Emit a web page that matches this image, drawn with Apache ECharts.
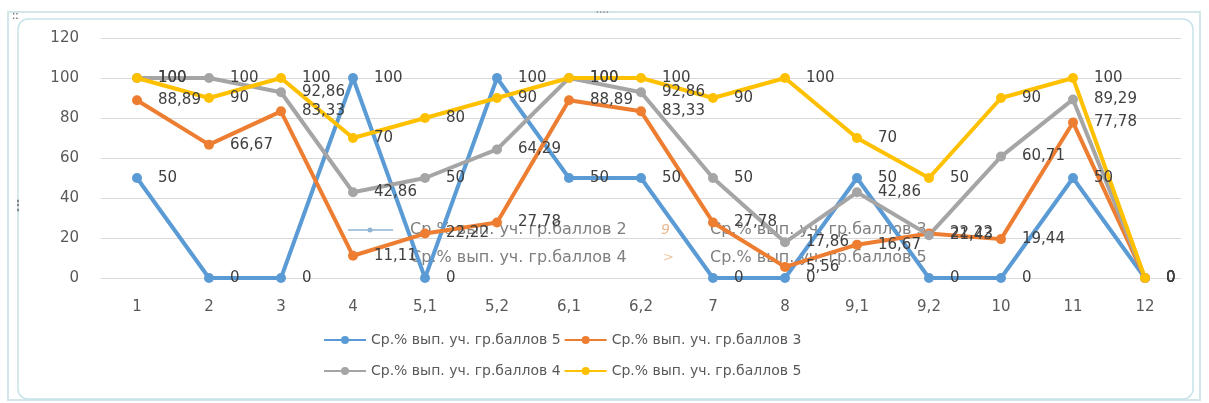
<!DOCTYPE html>
<html><head><meta charset="utf-8">
<script src="https://cdn.jsdelivr.net/npm/echarts@6/dist/echarts.min.js"></script>
<style>html,body{margin:0;padding:0;background:#fff}#c{width:1209px;height:403px}</style>
</head><body><div id="c"></div>
<script>
const categories = ['1','2','3','4','5,1','5,2','6,1','6,2','7','8','9,1','9,2','10','11','12'];
const yTicks = [0, 20, 40, 60, 80, 100, 120];
const nameBlue = 'Ср.% вып. уч. гр.баллов 5';
const nameOrange = 'Ср.% вып. уч. гр.баллов 3';
const nameGray = 'Ср.% вып. уч. гр.баллов 4';
const nameYellow = 'Ср.% вып. уч. гр.баллов 5\u200B';
const blueValues   = [50, 0, 0, 100, 0, 100, 50, 50, 0, 0, 50, 0, 0, 50, 0];
const orangeValues = [88.89, 66.67, 83.33, 11.11, 22.22, 27.78, 88.89, 83.33, 27.78, 5.56, 16.67, 22.22, 19.44, 77.78, 0];
const grayValues   = [100, 100, 92.86, 42.86, 50, 64.29, 100, 92.86, 50, 17.86, 42.86, 21.43, 60.71, 89.29, 0];
const yellowValues = [100, 90, 100, 70, 80, 90, 100, 100, 90, 100, 70, 50, 90, 100, 0];
const ghostTexts = ['Ср.% вып. уч. гр.баллов 2', 'Ср.% вып. уч. гр.баллов 3', 'Ср.% вып. уч. гр.баллов 4', 'Ср.% вып. уч. гр.баллов 5'];

const FONT = 'DejaVu Sans';
const chart = echarts.init(document.getElementById('c'), null, {renderer: 'canvas'});

function mk(name, data, color) {
  return {
    name, type: 'line', data,
    symbol: 'circle', symbolSize: 10,
    lineStyle: {width: 4, color},
    itemStyle: {color},
    label: {
      show: true, position: 'right', distance: 16,
      color: '#404040', fontFamily: FONT, fontSize: 15,
      formatter: p => String(p.value).replace('.', ',')
    },
    emphasis: {disabled: true},
    animation: false
  };
}

const legendCommon = {
  itemWidth: 42, itemHeight: 10, itemGap: 3, padding: 0,
  textStyle: {color: '#595959', fontFamily: FONT, fontSize: 14}
};

chart.setOption({
  backgroundColor: '#fff',
  animation: false,
  color: ['#5B9BD5', '#ED7D31', '#A5A5A5', '#FFC000'],
  grid: {left: 101, right: 28, top: 38, bottom: 125},
  legend: [
    Object.assign({}, legendCommon, {data: [nameBlue, nameOrange], left: 323, top: 333}),
    Object.assign({}, legendCommon, {data: [nameGray, nameYellow], left: 323, top: 364})
  ],
  xAxis: {
    type: 'category', data: categories, boundaryGap: true,
    axisLine: {lineStyle: {color: '#d9d9d9'}},
    axisTick: {show: false},
    axisLabel: {color: '#595959', fontFamily: FONT, fontSize: 15, margin: 22}
  },
  yAxis: {
    type: 'value', min: yTicks[0], max: yTicks[yTicks.length - 1], interval: 20,
    axisLine: {show: false}, axisTick: {show: false},
    splitLine: {lineStyle: {color: '#d9d9d9'}},
    axisLabel: {color: '#595959', fontFamily: FONT, fontSize: 15, margin: 22}
  },
  series: [
    mk(nameBlue, blueValues, '#5B9BD5'),
    mk(nameOrange, orangeValues, '#ED7D31'),
    mk(nameGray, grayValues, '#A5A5A5'),
    mk(nameYellow, yellowValues, '#FFC000')
  ],
  graphic: [
    {type: 'rect', shape: {x: 8, y: 12, width: 1192, height: 388}, style: {fill: 'none', stroke: '#d3e6ea', lineWidth: 2}, silent: true},
    {type: 'rect', shape: {x: 18, y: 19, width: 1175, height: 380, r: 10}, style: {fill: 'none', stroke: '#c6e3e9', lineWidth: 1.5}, silent: true},
    {type: 'text', left: 12, top: 11, style: {text: '::', fill: '#777', font: 'bold 10px sans-serif'}, silent: true},
    {type: 'text', left: 596, top: 8, style: {text: '····', fill: '#999', font: 'bold 10px sans-serif'}, silent: true},
    {type: 'text', left: 12, top: 200, style: {text: '⋮', fill: '#777', font: 'bold 12px sans-serif'}, silent: true},
    {type: 'line', shape: {x1: 348, y1: 230, x2: 393, y2: 230}, style: {stroke: '#8fb4d6', lineWidth: 1.5}, silent: true},
    {type: 'circle', shape: {cx: 370, cy: 230, r: 2.5}, style: {fill: '#8fb4d6'}, silent: true},
    {type: 'text', x: 410, y: 230, style: {text: ghostTexts[0], fill: '#7f7f7f', font: '16px "DejaVu Sans"', verticalAlign: 'middle'}, silent: true},
    {type: 'text', x: 710, y: 230, style: {text: ghostTexts[1], fill: '#7f7f7f', font: '16px "DejaVu Sans"', verticalAlign: 'middle'}, silent: true},
    {type: 'text', x: 410, y: 258, style: {text: ghostTexts[2], fill: '#7f7f7f', font: '16px "DejaVu Sans"', verticalAlign: 'middle'}, silent: true},
    {type: 'text', x: 710, y: 258, style: {text: ghostTexts[3], fill: '#7f7f7f', font: '16px "DejaVu Sans"', verticalAlign: 'middle'}, silent: true},
    {type: 'text', x: 661, y: 230, style: {text: '9', fill: '#e8b890', font: 'italic 14px "DejaVu Sans"', verticalAlign: 'middle'}, silent: true},
    {type: 'text', x: 663, y: 258, style: {text: '>', fill: '#f0c8a0', font: '13px "DejaVu Sans"', verticalAlign: 'middle'}, silent: true}
  ]
});
</script></body></html>
